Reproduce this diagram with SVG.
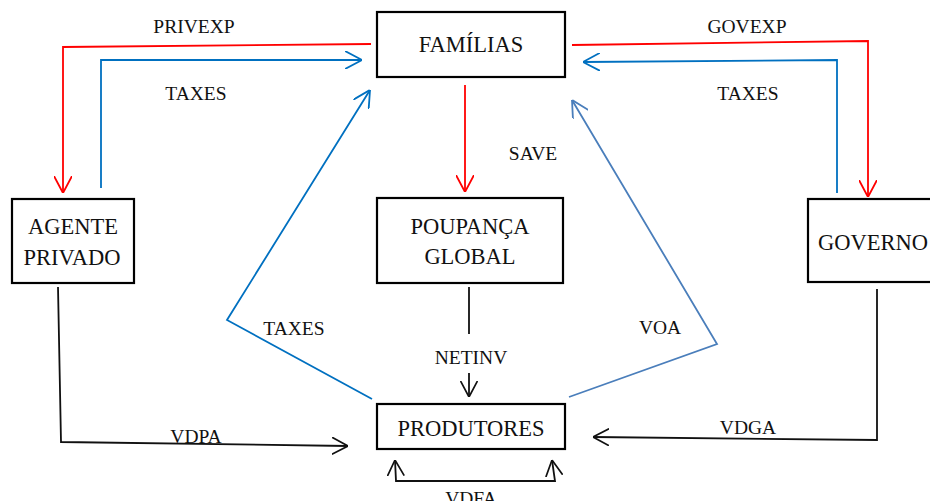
<svg xmlns="http://www.w3.org/2000/svg" width="930" height="501" viewBox="0 0 930 501">
  <style>
    .box { fill: #ffffff; stroke: #000000; stroke-width: 2.2; }
    .name { font-family: "Liberation Serif", "Times New Roman", serif; font-size: 22.5px; fill: #111111; text-anchor: middle; }
    .lbl { font-family: "Liberation Serif", "Times New Roman", serif; font-size: 19.5px; fill: #111111; text-anchor: middle; }
    .ln { fill: none; stroke-width: 1.8; stroke-linejoin: miter; }
    .red { stroke: #ff0000; }
    .blue { stroke: #0070c0; }
    .steel { stroke: #4a7ebb; }
    .blk { stroke: #111111; }
  </style>
  <defs>
    <marker id="hRed" viewBox="0 0 17 18" refX="17" refY="9" markerWidth="17" markerHeight="18" markerUnits="userSpaceOnUse" orient="auto-start-reverse">
      <path d="M0,0 L17,9 L0,18" fill="none" stroke="#ff0000" stroke-width="1.8"/>
    </marker>
    <marker id="hBlue" viewBox="0 0 17 18" refX="17" refY="9" markerWidth="17" markerHeight="18" markerUnits="userSpaceOnUse" orient="auto-start-reverse">
      <path d="M0,0 L17,9 L0,18" fill="none" stroke="#0070c0" stroke-width="1.8"/>
    </marker>
    <marker id="hSteel" viewBox="0 0 17 18" refX="17" refY="9" markerWidth="17" markerHeight="18" markerUnits="userSpaceOnUse" orient="auto-start-reverse">
      <path d="M0,0 L17,9 L0,18" fill="none" stroke="#4a7ebb" stroke-width="1.8"/>
    </marker>
    <marker id="hBlk" viewBox="0 0 17 18" refX="17" refY="9" markerWidth="16" markerHeight="18" markerUnits="userSpaceOnUse" orient="auto-start-reverse">
      <path d="M0,0 L17,9 L0,18" fill="none" stroke="#111111" stroke-width="1.8"/>
    </marker>
  </defs>

  <rect width="930" height="501" fill="#ffffff"/>

  <!-- connectors -->
  <g id="connectors">
    <polyline class="ln red" points="371,44 63,47 63,193" marker-end="url(#hRed)"/>
    <polyline class="ln blue" points="101,188 101,60 362,60" marker-end="url(#hBlue)"/>
    <polyline class="ln blue" points="372,399 227,320 370,90" marker-end="url(#hBlue)"/>
    <polyline class="ln red" points="572,45 868,41 868,197" marker-end="url(#hRed)"/>
    <polyline class="ln blue" points="837,193 837,60 583,62" marker-end="url(#hBlue)"/>
    <polyline class="ln steel" points="569,397 717,344 572,100" marker-end="url(#hSteel)"/>
    <line class="ln red" x1="465" y1="85" x2="465" y2="192" marker-end="url(#hRed)"/>
    <line class="ln blk" x1="469" y1="287" x2="469" y2="334"/>
    <line class="ln blk" x1="469" y1="373" x2="469" y2="397" marker-end="url(#hBlk)"/>
    <polyline class="ln blk" points="58,287 61,442 348,446" marker-end="url(#hBlk)"/>
    <polyline class="ln blk" points="877,289 877,440 593,437" marker-end="url(#hBlk)"/>
    <polyline class="ln blk" points="395,460 396,481 555,481 552,460" marker-start="url(#hBlk)" marker-end="url(#hBlk)"/>

    <text class="lbl" x="194" y="33">PRIVEXP</text>
    <text class="lbl" x="196" y="100">TAXES</text>
    <text class="lbl" x="747" y="33">GOVEXP</text>
    <text class="lbl" x="748" y="100">TAXES</text>
    <text class="lbl" x="533" y="160">SAVE</text>
    <text class="lbl" x="294" y="335">TAXES</text>
    <text class="lbl" x="660" y="334">VOA</text>
    <text class="lbl" x="471" y="364">NETINV</text>
    <text class="lbl" x="196" y="443">VDPA</text>
    <text class="lbl" x="748" y="434">VDGA</text>
    <text class="lbl" x="471" y="505">VDFA</text>
  </g>

  <!-- nodes -->
  <g id="familias">
    <rect class="box" x="377" y="12" width="188" height="65"/>
    <text class="name" x="471" y="52">FAMÍLIAS</text>
  </g>
  <g id="agente-privado">
    <rect class="box" x="12" y="199" width="122" height="84"/>
    <text class="name" x="73" y="234">AGENTE</text>
    <text class="name" x="72" y="265">PRIVADO</text>
  </g>
  <g id="poupanca-global">
    <rect class="box" x="377" y="198" width="186" height="85"/>
    <text class="name" x="470" y="234">POUPANÇA</text>
    <text class="name" x="470" y="264">GLOBAL</text>
  </g>
  <g id="governo">
    <rect class="box" x="808" y="199" width="126" height="83"/>
    <text class="name" x="873" y="250">GOVERNO</text>
  </g>
  <g id="produtores">
    <rect class="box" x="377" y="404" width="188" height="45"/>
    <text class="name" x="471" y="436">PRODUTORES</text>
  </g>
</svg>
